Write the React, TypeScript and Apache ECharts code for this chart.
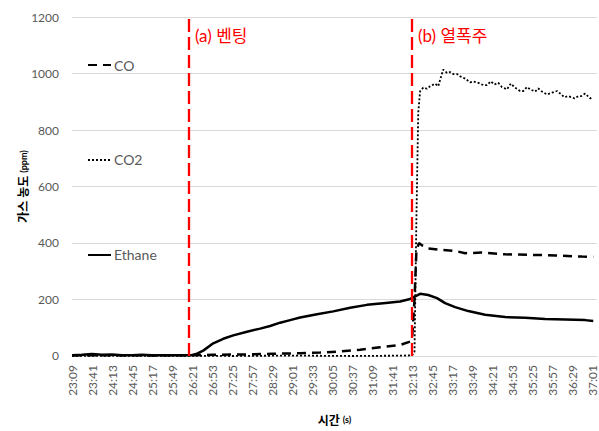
import React, { useEffect, useRef } from "react";
import * as echarts from "echarts";

// time offsets in seconds from 23:09
const START_LABEL = "23:09";
const TICK_STEP = 32;
const X_MAX = 840;

const ethaneT = [0, 16, 32, 48, 64, 80, 96, 112, 128, 144, 160, 176, 191, 200, 210, 226, 242, 258, 280, 301, 317, 333, 349, 365, 392, 418, 445, 472, 498, 525, 541, 549, 557, 570, 584, 597, 613, 634, 661, 693, 725, 757, 789, 821, 834];
const ethaneV = [3, 4, 7, 4, 5, 3, 3, 4, 3, 3, 3, 3, 3, 8, 19, 45, 61, 73, 86, 97, 106, 118, 127, 136, 148, 158, 171, 181, 187, 193, 202, 211, 220, 216, 205, 187, 173, 159, 146, 138, 135, 131, 129, 127, 124];

const coT = [0, 64, 128, 191, 224, 256, 288, 320, 349, 365, 397, 429, 461, 493, 525, 541, 544, 548, 551, 555, 560, 570, 586, 613, 629, 656, 693, 736, 774, 816, 834];
const coV = [2, 3, 2, 3, 4, 5, 6, 8, 9, 10, 12, 16, 22, 31, 39, 51, 58, 200, 370, 400, 392, 381, 377, 372, 364, 366, 360, 358, 356, 352, 351];

const co2T = [0, 64, 128, 192, 256, 320, 384, 448, 512, 544, 548, 551, 554, 557, 562, 568, 573, 581, 586, 590, 594, 600, 605, 610, 616, 621, 629, 637, 642, 650, 658, 664, 670, 676, 682, 688, 696, 702, 709, 717, 722, 728, 733, 741, 746, 752, 760, 768, 776, 781, 788, 794, 804, 810, 815, 821, 829, 834];
const co2V = [0, 1, 0, 1, 0, 1, 1, 0, 1, 2, 15, 480, 862, 938, 950, 946, 955, 964, 955, 985, 1014, 1002, 1005, 998, 998, 990, 982, 969, 972, 967, 959, 959, 972, 961, 967, 952, 944, 964, 950, 938, 938, 952, 944, 936, 947, 936, 926, 932, 938, 929, 916, 920, 912, 920, 920, 929, 912, 916];

const ventT = 187;
const runawayT = 544;
const annotationY = 1135;

const toSec = (s: string) => {
  const [m, ss] = s.split(":").map(Number);
  return m * 60 + ss;
};

const fmtTime = (v: number) => {
  if (v % TICK_STEP !== 0) return "";
  const s = toSec(START_LABEL) + v;
  const m = Math.floor(s / 60);
  const r = s % 60;
  return `${m}:${String(r).padStart(2, "0")}`;
};

const FONT = "Lato, 'Noto Sans CJK KR', sans-serif";
const GRAY = "#595959";

export default function App() {
  const ref = useRef<HTMLDivElement>(null);
  useEffect(() => {
    if (!ref.current) return;
    const chart = echarts.init(ref.current, undefined, { renderer: "svg" });
    const pair = (ts: number[], vs: number[]) => ts.map((t, i) => [t, vs[i]]);
    chart.setOption({
      animation: false,
      backgroundColor: "#ffffff",
      textStyle: { fontFamily: FONT },
      grid: { left: 72, right: 2, top: 17, bottom: 71 },
      legend: {
        orient: "vertical",
        left: 87,
        top: 58,
        padding: 0,
        itemWidth: 23,
        itemHeight: 14,
        itemGap: 81,
        itemStyle: { opacity: 0 },
        textStyle: { color: GRAY, fontSize: 14, fontFamily: FONT, padding: [0, 0, 0, -2] },
        data: ["CO", "CO2", "Ethane"],
      },
      xAxis: {
        type: "value",
        min: 0,
        max: X_MAX,
        interval: TICK_STEP,
        name: "{a|시간} {b|(s)}",
        nameLocation: "middle",
        nameGap: 58,
        nameMoveOverlap: false,
        nameTextStyle: {
          align: "center",
          rich: {
            a: { fontSize: 12, fontWeight: "bold", color: "#000", fontFamily: FONT },
            b: { fontSize: 9, fontWeight: "bold", color: "#000", fontFamily: FONT },
          },
        },
        axisLine: { show: true, lineStyle: { color: "#d9d9d9", width: 1 } },
        axisTick: { show: false },
        splitLine: { show: false },
        axisLabel: {
          rotate: 90,
          margin: 9,
          color: GRAY,
          fontSize: 12,
          fontFamily: FONT,
          formatter: (v: number) => fmtTime(v),
          showMaxLabel: false,
        },
      },
      yAxis: {
        type: "value",
        min: 0,
        max: 1200,
        interval: 200,
        name: "{a|가스 농도} {b|(ppm)}",
        nameLocation: "middle",
        nameGap: 43,
        nameMoveOverlap: false,
        nameTextStyle: {
          rich: {
            a: { fontSize: 12, fontWeight: "bold", color: "#000", fontFamily: FONT },
            b: { fontSize: 9, fontWeight: "bold", color: "#000", fontFamily: FONT },
          },
        },
        axisLine: { show: false },
        axisTick: { show: false },
        splitLine: { lineStyle: { color: "#d9d9d9", width: 1 } },
        axisLabel: {
          color: GRAY,
          fontSize: 12,
          fontFamily: FONT,
          margin: 13,
          formatter: (v: number) => String(v),
        },
      },
      series: [
        {
          name: "CO",
          type: "line",
          data: pair(coT, coV),
          showSymbol: false,
          symbol: "none",
          lineStyle: { color: "#000", width: 2.5, type: [9, 6] },
          itemStyle: { color: "#000" },
          z: 3,
        },
        {
          name: "CO2",
          type: "line",
          data: pair(co2T, co2V),
          showSymbol: false,
          symbol: "none",
          lineStyle: { color: "#000", width: 1.8, type: [2, 2] },
          itemStyle: { color: "#000" },
          z: 3,
        },
        {
          name: "Ethane",
          type: "line",
          data: pair(ethaneT, ethaneV),
          showSymbol: false,
          symbol: "none",
          lineStyle: { color: "#000", width: 2.5, type: "solid" },
          itemStyle: { color: "#000" },
          z: 3,
          markLine: {
            silent: true,
            symbol: "none",
            label: { show: false },
            lineStyle: { color: "#ff0000", width: 2.3, type: [13, 5] },
            data: [{ xAxis: ventT }, { xAxis: runawayT }],
            z: 5,
          },
          markPoint: {
            silent: true,
            symbol: "circle",
            symbolSize: 0,
            label: {
              show: true,
              position: "right",
              distance: 6,
              color: "#ff0000",
              fontSize: 17,
              fontFamily: FONT,
            },
            data: [
              { coord: [ventT, annotationY], label: { formatter: "(a) 벤팅" } },
              { coord: [runawayT, annotationY], label: { formatter: "(b) 열폭주" } },
            ],
          },
        },
      ],
    });
    return () => chart.dispose();
  }, []);
  return (
    <div
      ref={ref}
      style={{ position: "fixed", left: 0, top: 0, width: 599, height: 431, background: "#fff" }}
    />
  );
}
